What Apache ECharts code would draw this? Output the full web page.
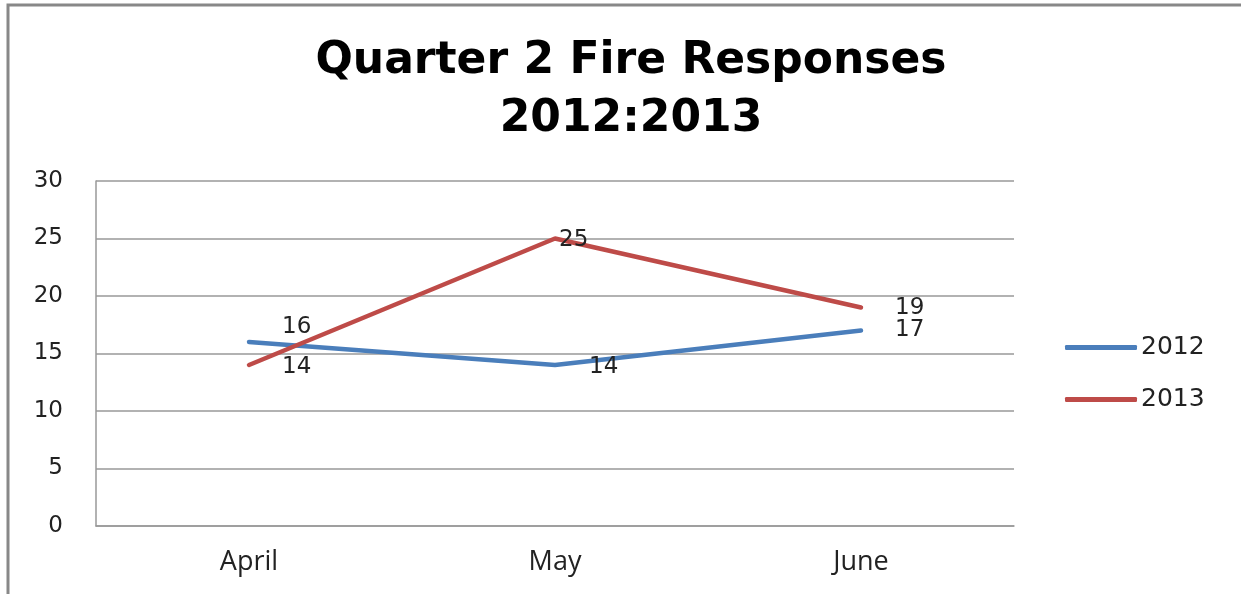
<!DOCTYPE html>
<html>
<head>
<meta charset="utf-8">
<script src="https://cdn.jsdelivr.net/npm/echarts@6/dist/echarts.min.js"></script>
<style>
  html, body { margin: 0; padding: 0; background: #fff; }
  #chart { width: 1241px; height: 594px; }
</style>
</head>
<body>
<div id="chart"></div>
<script>
// 数据
var months = ['April', 'May', 'June'];
var seriesNames = ['2012', '2013'];
var values2012 = [16, 14, 17];
var values2013 = [14, 25, 19];
var yTicks = [0, 5, 10, 15, 20, 25, 30];

var chart = echarts.init(document.getElementById('chart'));

// 数据标签偏移 (px)
var offsets2012 = [[32, -15], [33, 2], [33, 0]];
var offsets2013 = [[32, 2], [3, 2], [33, 1]];

function buildData(vals, offs) {
  return vals.map(function (v, i) {
    return { value: v, label: { offset: offs[i] } };
  });
}

var labelStyle = {
  show: true,
  position: 'right',
  distance: 0,
  fontFamily: 'DejaVu Sans',
  fontSize: 23,
  color: '#222'
};

var option = {
  animation: false,
  backgroundColor: '#fff',
  title: {
    text: 'Quarter 2 Fire Responses\n2012:2013',
    left: 626,
    top: 28,
    textAlign: 'center',
    textStyle: {
      fontFamily: 'DejaVu Sans',
      fontWeight: 'bold',
      fontSize: 44,
      lineHeight: 58,
      color: '#000'
    }
  },
  legend: {
    orient: 'vertical',
    left: 1065,
    top: 335,
    padding: 0,
    icon: 'roundRect',
    itemWidth: 72,
    itemHeight: 5,
    itemGap: 27,
    data: seriesNames,
    textStyle: {
      fontFamily: 'DejaVu Sans',
      fontSize: 25,
      lineHeight: 24,
      color: '#222',
      padding: [0, 0, 0, -1]
    }
  },
  grid: {
    left: 96,
    right: 227,
    top: 181,
    bottom: 68
  },
  xAxis: {
    type: 'category',
    boundaryGap: true,
    data: months,
    axisLine: { show: true, lineStyle: { color: '#999', width: 1.5 } },
    axisTick: { show: false },
    axisLabel: {
      margin: 23,
      fontFamily: 'Open Sans',
      fontSize: 27,
      color: '#222'
    }
  },
  yAxis: {
    type: 'value',
    min: yTicks[0],
    max: yTicks[yTicks.length - 1],
    interval: 5,
    axisLine: { show: true, lineStyle: { color: '#999', width: 1.5 } },
    axisTick: { show: false },
    splitLine: { lineStyle: { color: '#999', width: 1.5 } },
    axisLabel: {
      margin: 33,
      fontFamily: 'DejaVu Sans',
      fontSize: 23,
      color: '#222'
    }
  },
  series: [
    {
      name: seriesNames[0],
      type: 'line',
      data: buildData(values2012, offsets2012),
      symbol: 'circle',
      symbolSize: 2,
      color: '#4A7EBB',
      lineStyle: { width: 4.5, color: '#4A7EBB', cap: 'round' },
      label: labelStyle
    },
    {
      name: seriesNames[1],
      type: 'line',
      data: buildData(values2013, offsets2013),
      symbol: 'circle',
      symbolSize: 2,
      color: '#BE4B48',
      lineStyle: { width: 4.5, color: '#BE4B48', cap: 'round' },
      label: labelStyle
    }
  ],
  graphic: [
    {
      type: 'rect',
      shape: { x: 8, y: 5, width: 1260, height: 620 },
      style: { fill: 'none', stroke: '#888', lineWidth: 3 },
      silent: true
    }
  ]
};

chart.setOption(option);
</script>
</body>
</html>
